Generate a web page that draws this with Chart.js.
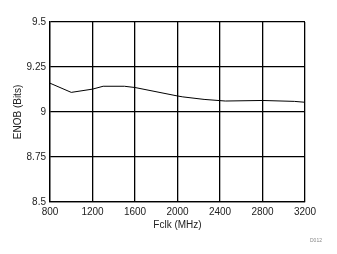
<!DOCTYPE html>
<html>
<head>
<meta charset="utf-8">
<script src="https://cdn.jsdelivr.net/npm/chart.js@4/dist/chart.umd.min.js"></script>
<style>
  html, body { margin: 0; padding: 0; background: #fff; }
  #wrap { width: 337px; height: 254px; }
</style>
</head>
<body>
<div id="wrap"><canvas id="enob-chart"></canvas></div>
<script>
// Frequency (MHz) and ENOB
const fclk = [800, 1000, 1200, 1300, 1500, 1600, 2000, 2050, 2250, 2450, 2800, 3100, 3200];
const enob = [9.16, 9.109, 9.127, 9.143, 9.143, 9.136, 9.089, 9.084, 9.07, 9.061, 9.064, 9.059, 9.054];

const xTicks = [800, 1200, 1600, 2000, 2400, 2800, 3200];
const yTicks = [8.5, 8.75, 9, 9.25, 9.5];

const FONT = 'Liberation Sans, Arial, sans-serif';

// small figure id in the bottom-right corner
const figureTag = {
    id: 'figureTag',
    afterDraw(chart) {
        const ctx = chart.ctx;
        ctx.save();
        ctx.font = '5px ' + FONT;
        ctx.fillStyle = '#888';
        ctx.textAlign = 'left';
        ctx.textBaseline = 'middle';
        ctx.fillText('D012', 310, 241);
        ctx.restore();
    }
};

const ctx = document.getElementById('enob-chart').getContext('2d');
new Chart(ctx, {
    type: 'line',
    data: {
        datasets: [{
            data: fclk.map((f, i) => ({ x: f, y: enob[i] })),
            borderColor: '#000',
            borderWidth: 1,
            pointRadius: 0,
            fill: false,
            tension: 0
        }]
    },
    options: {
        responsive: true,
        maintainAspectRatio: false,
        animation: false,
        layout: { padding: { top: 22, right: 32, bottom: 23, left: 0 } },
        plugins: {
            legend: { display: false },
            tooltip: { enabled: false }
        },
        scales: {
            x: {
                type: 'linear',
                min: 800,
                max: 3200,
                afterBuildTicks: (scale) => { scale.ticks = xTicks.map(v => ({ value: v })); },
                afterFit: (scale) => { scale.height = 29; },
                grid: { color: '#000', lineWidth: 1.3, drawTicks: false },
                border: { color: '#000', width: 1.3 },
                ticks: {
                    color: '#222',
                    font: { family: FONT, size: 10 },
                    padding: 4,
                    maxRotation: 0,
                    callback: (v) => String(v)
                },
                title: {
                    display: true,
                    text: 'Fclk (MHz)',
                    color: '#222',
                    font: { family: FONT, size: 10 },
                    padding: { top: 1, bottom: 0 }
                }
            },
            y: {
                min: 8.5,
                max: 9.5,
                afterBuildTicks: (scale) => { scale.ticks = yTicks.map(v => ({ value: v })); },
                afterFit: (scale) => { scale.width = 50; },
                grid: { color: '#000', lineWidth: 1.3, drawTicks: false },
                border: { color: '#000', width: 1.3 },
                ticks: {
                    color: '#222',
                    font: { family: FONT, size: 10 },
                    padding: 4,
                    callback: (v) => String(v)
                },
                title: {
                    display: true,
                    text: 'ENOB (Bits)',
                    color: '#222',
                    font: { family: FONT, size: 10 },
                    padding: { top: 12, bottom: 0 }
                }
            }
        }
    },
    plugins: [figureTag]
});
</script>
</body>
</html>
